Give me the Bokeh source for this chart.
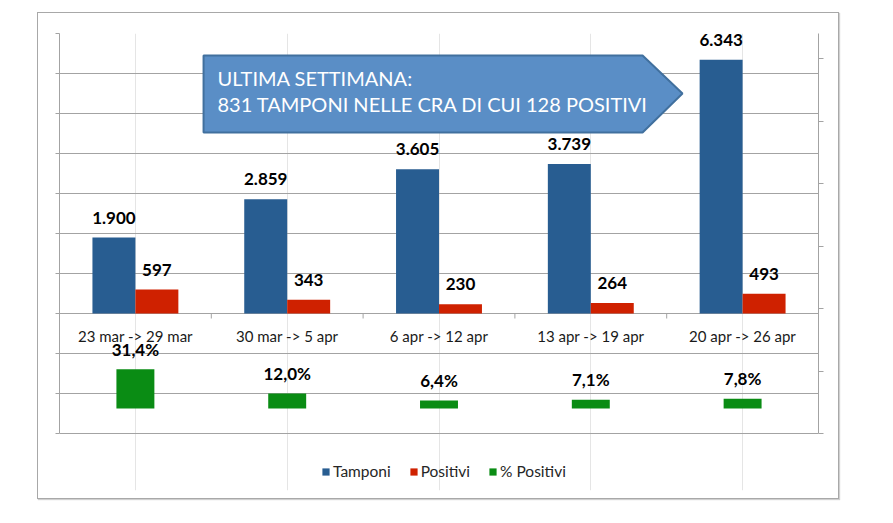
from bokeh.plotting import figure
from bokeh.models import (ColumnDataSource, FactorRange, Range1d, LinearAxis, FixedTicker,
                          CustomJSTickFormatter, Legend, LegendItem, Label, Grid)
from bokeh.transform import dodge
from bokeh.core.properties import value
from bokeh.embed import file_html
from bokeh.resources import INLINE

# ---- data ----
categories = ["23 mar -> 29 mar", "30 mar -> 5 apr", "6 apr -> 12 apr",
              "13 apr -> 19 apr", "20 apr -> 26 apr"]
tamponi = [1900, 2859, 3605, 3739, 6343]
positivi = [597, 343, 230, 264, 493]
pct_positivi = [31.4, 12.0, 6.4, 7.1, 7.8]
series_names = ["Tamponi", "Positivi", "% Positivi"]
y_ticks = [-3000, -2000, -1000, 0, 1000, 2000, 3000, 4000, 5000, 6000, 7000]
pct_ticks = [-20, 30, 80, 130, 180, 230, 280]
pct_max = 300
callout_lines = ["ULTIMA SETTIMANA:", "831 TAMPONI NELLE CRA DI CUI 128 POSITIVI"]

BLUE = "#285d91"
RED = "#cf2100"
GREEN = "#0a8c14"
GRID = "#a3a3a3"
FONT = "Lato"

# frame geometry (pixels): plot area 400px tall for the y_ticks span, extended downward
# so that the legend can sit inside the frame
FRAME_H = 457
PLOT_H = 400
px_per_unit = PLOT_H / (y_ticks[-1] - y_ticks[0])
y_bottom = y_ticks[-1] - FRAME_H / px_per_unit
px_per_pct = PLOT_H / (pct_max - pct_ticks[0])
pct_bottom = pct_max - FRAME_H / px_per_pct


def it_int(v):
    return f"{v:,}".replace(",", ".")


def it_pct(v):
    return f"{v:.1f}".replace(".", ",") + "%"


src = ColumnDataSource(dict(
    cat=categories, tamponi=tamponi, positivi=positivi, pct=pct_positivi,
    zero=[0] * len(categories),
    t_lbl=[it_int(v) for v in tamponi],
    p_lbl=[it_int(v) for v in positivi],
    pct_lbl=[it_pct(v) for v in pct_positivi],
))

p = figure(x_range=FactorRange(factors=categories, range_padding=0, factor_padding=0),
           y_range=Range1d(y_bottom, y_ticks[-1]),
           width=802, height=487, output_backend="svg", toolbar_location=None,
           x_axis_location=None, y_axis_location=None,
           min_border_left=21, min_border_right=22, min_border_top=20, min_border_bottom=10)
p.outline_line_color = None
p.margin = (12, 0, 0, 37)
p.styles = {"border": "1px solid #a8a8a8", "box-shadow": "1px 1px 1px #d0d0d0"}
p.extra_y_ranges = {"pct": Range1d(pct_bottom, pct_max)}

blank = CustomJSTickFormatter(code="return ''")

grid = Grid(dimension=1, ticker=FixedTicker(ticks=y_ticks), grid_line_color=GRID)
p.add_layout(grid)

left = LinearAxis(ticker=FixedTicker(ticks=y_ticks), formatter=blank,
                  bounds=(y_ticks[0], y_ticks[-1]),
                  major_tick_out=4, major_tick_in=0, minor_tick_line_color=None,
                  axis_line_color=GRID, major_tick_line_color=GRID, major_label_standoff=0)
p.add_layout(left, "left")

right = LinearAxis(y_range_name="pct", ticker=FixedTicker(ticks=pct_ticks), formatter=blank,
                   bounds=(pct_ticks[0], pct_max),
                   major_tick_out=5, major_tick_in=0, minor_tick_line_color=None,
                   axis_line_color=GRID, major_tick_line_color=GRID, major_label_standoff=0)
p.add_layout(right, "right")

# category separators on the category axis
p.segment(x0=dodge("cat", 0.5, range=p.x_range), y0=0,
          x1=dodge("cat", 0.5, range=p.x_range), y1=-5 / px_per_unit,
          source=src, line_color=GRID, line_width=1)
# category labels
p.text(x="cat", y="zero", text="cat", source=src, text_align="center",
       text_baseline="alphabetic", y_offset=22, text_font=value(FONT),
       text_font_size="15px", text_color="#1a1a1a")

# callout arrow
p.patch(x=[0.949, 3.841, 4.104, 3.841, 0.949], y=[6450, 6450, 5500, 4525, 4525],
        fill_color="#5a8ec6", line_color="#41709e", line_width=2)
for txt, yy in zip(callout_lines, [5900, 5250]):
    p.add_layout(Label(x=1.041, y=yy, text=txt, text_color="white", text_font=FONT,
                       text_font_size="20px", text_baseline="alphabetic"))

bw = 0.283
r1 = p.vbar(x=dodge("cat", -bw / 2, range=p.x_range), top="tamponi", bottom=0, width=bw,
            source=src, fill_color=BLUE, line_color=None)
r2 = p.vbar(x=dodge("cat", bw / 2, range=p.x_range), top="positivi", bottom=0, width=bw,
            source=src, fill_color=RED, line_color=None)
r3 = p.vbar(x="cat", top="pct", bottom=0, width=0.25, y_range_name="pct",
            source=src, fill_color=GREEN, line_color=None)

lbl = dict(source=src, text_align="center", text_baseline="alphabetic", y_offset=-20,
           text_font=value(FONT), text_font_style="bold", text_font_size="17px", text_color="black")
p.text(x=dodge("cat", -bw / 2, range=p.x_range), y="tamponi", text="t_lbl", **lbl)
p.text(x=dodge("cat", bw / 2, range=p.x_range), y="positivi", text="p_lbl", **lbl)
p.text(x="cat", y="pct", text="pct_lbl", y_range_name="pct", **lbl)

legend = Legend(items=[LegendItem(label=series_names[0], renderers=[r1]),
                       LegendItem(label=series_names[1], renderers=[r2]),
                       LegendItem(label=series_names[2], renderers=[r3])],
                orientation="horizontal", location=(262, 10), padding=0, margin=0,
                border_line_color=None, background_fill_alpha=0,
                glyph_width=9, glyph_height=9, label_standoff=3, spacing=18,
                label_text_font=FONT, label_text_font_size="15.5px", label_text_color="#262626")
p.add_layout(legend, "center")

open("out.html", "w").write(file_html(p, INLINE))
